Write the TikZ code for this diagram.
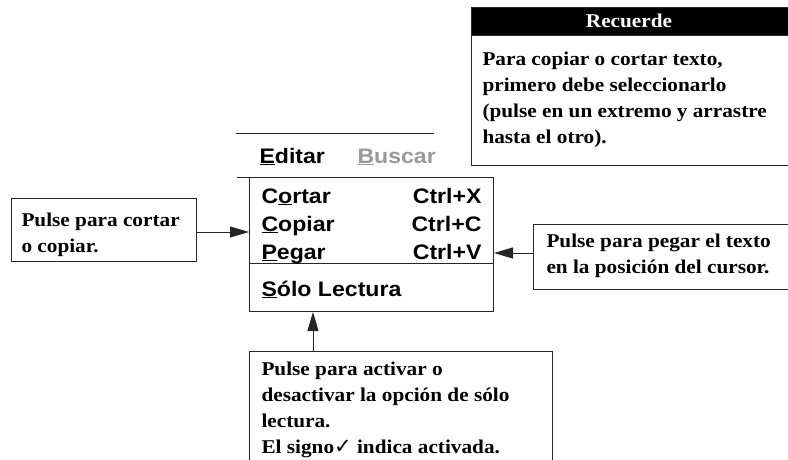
\documentclass[tikz,border=0pt]{standalone}
\usepackage{fontspec}
\usetikzlibrary{arrows.meta}
\newfontfamily\tms[FakeStretch=1.09]{Liberation Serif}
\newfontfamily\hel[FakeStretch=1.1]{Liberation Sans}
\newfontfamily\djv{DejaVu Sans}
\newcommand\ulc[1]{\underline{#1}}
\newcommand\tlines[1]{\vtop{\baselineskip=26pt\lineskiplimit=-20pt\halign{##\hfil\cr#1\crcr}}}
\begin{document}
\begin{tikzpicture}[x=1pt,y=-1pt, line width=1pt,
  box/.style={draw=black!85, inner sep=0pt, anchor=north west},
  note/.style={anchor=base west, inner sep=0pt, font=\tms\bfseries\fontsize{19.5}{26}\selectfont},
  menuitem/.style={anchor=base west, inner sep=0pt, font=\hel\bfseries\fontsize{21}{26}\selectfont},
  arr/.style={-{Triangle[length=19pt,width=11pt]}, draw=black!85}]
\useasboundingbox (0,0) rectangle (788,460);
\clip (0,0) rectangle (788,460);
% Recuerde box
\node[box, fill=black, minimum width=330, minimum height=28] (head) at (471,7) {};
\node[box, minimum width=330, minimum height=130] (rec) at (471,35) {};
\node[anchor=base, inner sep=0pt, text=white, font=\tms\bfseries\fontsize{19.5}{26}\selectfont] (headtxt) at (629,28) {Recuerde};
\node[note] (rectxt) at (482,66) {\tlines{Para copiar o cortar texto,\cr primero debe seleccionarlo\cr (pulse en un extremo y arrastre\cr hasta el otro).}};
% menu bar
\draw[black!85] (236,133) -- (434,133);
\node[menuitem] (editar) at (259,163) {\ulc{E}ditar};
\node[menuitem, text=black!40] (buscar) at (357,163) {\ulc{B}uscar};
\draw[black!85] (237,177) -- (337,177);
\node[box, minimum width=244, minimum height=134] (menubox) at (249,177) {};
\draw[black!85] (menubox.west |- 0,263) -- (menubox.east |- 0,263);
\node[menuitem] (cortar) at (261,203) {C\ulc{o}rtar};
\node[menuitem] (copiar) at (261,231) {\ulc{C}opiar};
\node[menuitem] (pegar) at (261,259) {\ulc{P}egar};
\node[menuitem] (solo) at (261,296) {\ulc{S}ólo Lectura};
\node[menuitem, anchor=base east] (kx) at (482,203) {Ctrl+X};
\node[menuitem, anchor=base east] (kc) at (482,231) {Ctrl+C};
\node[menuitem, anchor=base east] (kv) at (482,259) {Ctrl+V};
% left box
\node[box, minimum width=185, minimum height=63] (lbox) at (11,198) {};
\node[note] (ltxt) at (21,226) {\tlines{Pulse para cortar\cr o copiar.}};
% right box
\node[box, minimum width=270, minimum height=65] (rbox) at (533,224) {};
\node[note] (rtxt) at (546,247) {\tlines{Pulse para pegar el texto\cr en la posición del cursor.}};
% bottom box
\node[box, minimum width=303, minimum height=130] (bbox) at (249,351) {};
\node[note] (btxt) at (261,375) {\tlines{Pulse para activar o\cr desactivar la opción de sólo\cr lectura.\cr El signo{\djv\fontsize{21}{26}\selectfont ✓} indica activada.}};
% arrows
\draw[arr] (lbox.east |- 0,232) -- (menubox.west |- 0,232);
\draw[arr] (rbox.west |- 0,253) -- (menubox.east |- 0,253);
\draw[arr] (bbox.north -| 313,0) -- (menubox.south -| 313,0);
\end{tikzpicture}
\end{document}
